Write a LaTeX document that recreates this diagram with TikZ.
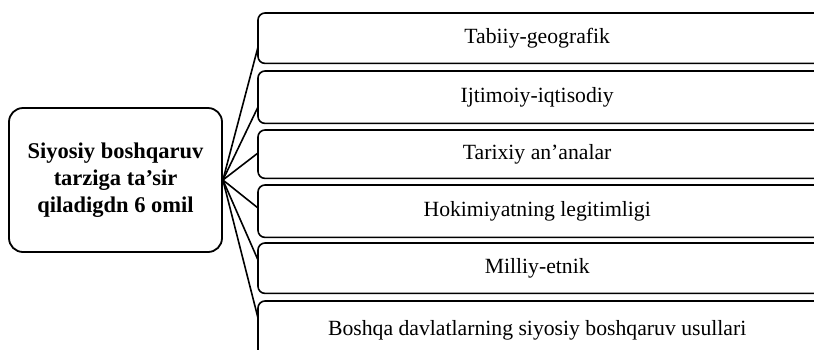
\documentclass[tikz,border=0pt]{standalone}
\usepackage{fontspec}
\setmainfont{Liberation Serif}
\begin{document}
\begin{tikzpicture}[x=1pt,y=-1pt,
  fbox/.style={minimum width=558pt, anchor=north west, inner sep=0pt,
    font=\fontsize{21.7}{24}\selectfont},
  boxline/.style={draw, line width=1.6pt, rounded corners=7pt},
  cbox/.style={draw, line width=1.8pt, rounded corners=14pt, minimum width=213pt, minimum height=144pt, inner sep=0pt,
    align=center, font=\fontsize{22.5}{27}\selectfont\bfseries},
  link/.style={line width=1.6pt}]
\useasboundingbox (0,0) rectangle (814,349);
\clip (0,0) rectangle (814,349);
\node[cbox] (c) at (115.5,180) {Siyosiy boshqaruv\\tarziga ta'sir\\qiladigdn 6 omil};
\node[fbox, minimum height=50pt] (b1) at (258,13) {Tabiiy-geografik};
\node[fbox, minimum height=52pt] (b2) at (258,71) {Ijtimoiy-iqtisodiy};
\node[fbox, minimum height=48pt] (b3) at (258,130) {Tarixiy an'analar};
\node[fbox, minimum height=52pt] (b4) at (258,185) {Hokimiyatning legitimligi};
\node[fbox, minimum height=50pt] (b5) at (258,243) {Milliy-etnik};
\node[fbox, minimum height=58pt] (b6) at (258,301) {Boshqa davlatlarning siyosiy boshqaruv usullari};
\foreach \i in {1,...,6}
  \draw[boxline] ([xshift=30pt]b\i.north east) -- (b\i.north west) -- (b\i.south west) -- ([xshift=30pt]b\i.south east);
\coordinate (p1) at (b1.west |- 0,47);
\coordinate (p2) at (b2.west |- 0,107);
\coordinate (p3) at (b3.west |- 0,153);
\coordinate (p4) at (b4.west |- 0,208);
\coordinate (p5) at (b5.west |- 0,260);
\coordinate (p6) at (b6.west |- 0,318);
\foreach \i in {1,...,6} \draw[link] (c.east) -- (p\i);
\end{tikzpicture}
\end{document}
